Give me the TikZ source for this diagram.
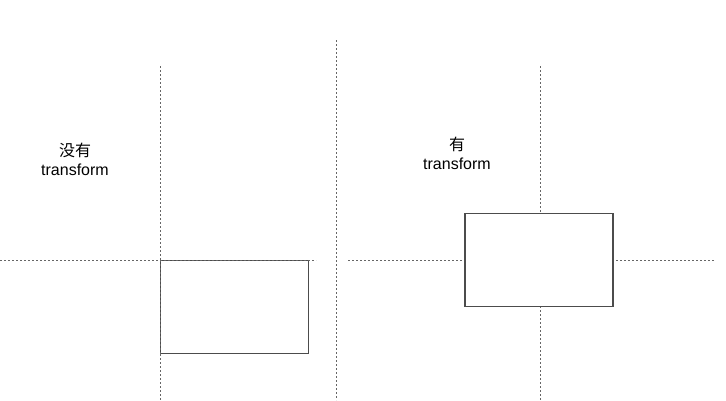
\documentclass[tikz,border=0pt]{standalone}
\usepackage{fontspec}
\setmainfont{Liberation Sans}
\newfontfamily\cjk{Noto Sans CJK SC}
\usetikzlibrary{positioning}

\begin{document}
\begin{tikzpicture}[x=1pt, y=-1pt,
    guide/.style={draw=black!60, line width=1pt, dash pattern=on 2pt off 2pt},
    boxshape/.style={draw=black!70, fill=white, line width=1.3pt, minimum width=148pt, minimum height=93pt, inner sep=0pt},
    lbl/.style={align=center, font=\fontsize{16}{19}\selectfont, inner sep=0pt}]

\useasboundingbox (0,0) rectangle (726,400);

% ============================
% Left: without transform
% ============================
\coordinate (Ltop)   at (160,66);
\coordinate (Lbot)   at (160,400);
\coordinate (Lwest)  at (0,260);
\coordinate (Least)  at (316,260);

\draw[guide] (Ltop) -- (Lbot);
\draw[guide] (Lwest) -- (Least);

\node[boxshape, anchor=north west] (plainbox) at (160,260) {};
\draw[guide] (plainbox.north west) -- (plainbox.north east);
\draw[guide] (plainbox.north west) -- (plainbox.south west);

\node[lbl] (plainlbl) at (75,159) {{\cjk 没有}\\transform};

% ============================
% Divider
% ============================
\coordinate (Mtop) at (336,40);
\coordinate (Mbot) at (336,400);
\draw[guide] (Mtop) -- (Mbot);

% ============================
% Right: with transform
% ============================
\coordinate (Rtop)  at (540,66);
\coordinate (Rbot)  at (540,400);
\coordinate (Rwest) at (348,260);
\coordinate (Reast) at (714,260);

\draw[guide] (Rtop) -- (Rbot);
\draw[guide] (Rwest) -- (Reast);

\node[boxshape] (movedbox) at (539,260) {};

\node[lbl] (movedlbl) at (457,153) {{\cjk 有}\\transform};

\end{tikzpicture}
\end{document}
